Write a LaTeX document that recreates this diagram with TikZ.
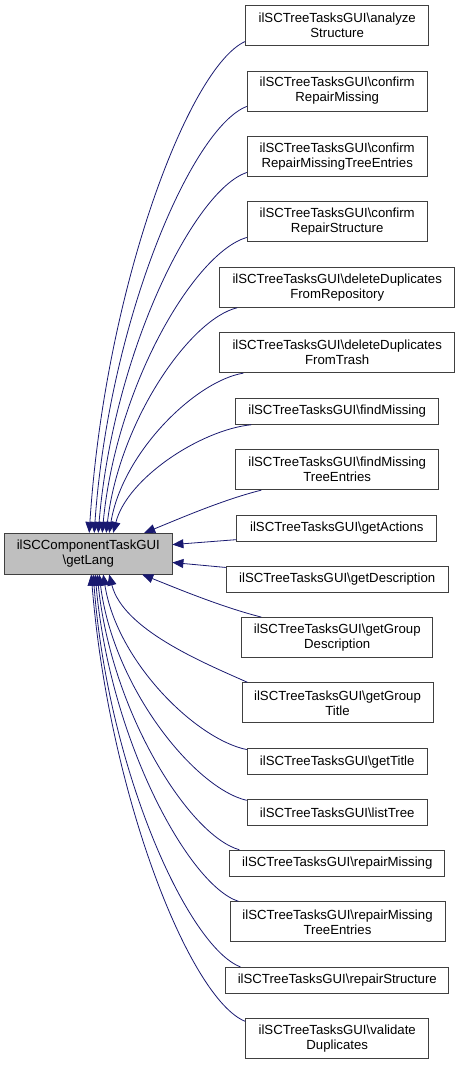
\documentclass[tikz,border=0pt]{standalone}
\usepackage{fontspec}
\setmainfont{Liberation Sans}
\usetikzlibrary{arrows.meta}
\definecolor{edgeblue}{RGB}{25,25,112}
\definecolor{boxline}{RGB}{64,64,64}
\definecolor{boxfill}{RGB}{191,191,191}
\begin{document}
\begin{tikzpicture}[x=1pt,y=-1pt,
  fn/.style={draw=boxline, line width=0.9pt, fill=white, align=center, font=\fontsize{13.2}{15}\selectfont, inner sep=0pt, minimum height=40pt},
  fn1/.style={fn, minimum height=26pt},
  edge/.style={draw=edgeblue, line width=0.8pt, -{Triangle[length=11pt,width=9pt]}}]
\useasboundingbox (0,0) rectangle (460,1065);
% central node
\node[fn, fill=boxfill, minimum width=167.3pt, minimum height=40.7pt] (gl) at (88.3,553.7) {ilSCComponentTaskGUI\\\textbackslash getLang};
% upper callers
\node[fn, minimum width=183pt] (a1) at (337.2,25.7) {ilSCTreeTasksGUI\textbackslash analyze\\Structure};
\node[fn, minimum width=180pt] (a2) at (337.2,91) {ilSCTreeTasksGUI\textbackslash confirm\\RepairMissing};
\node[fn, minimum width=180pt] (a3) at (337.2,156.3) {ilSCTreeTasksGUI\textbackslash confirm\\RepairMissingTreeEntries};
\node[fn, minimum width=180pt] (a4) at (337.2,221.7) {ilSCTreeTasksGUI\textbackslash confirm\\RepairStructure};
\node[fn, minimum width=235pt] (a5) at (337.2,287.3) {ilSCTreeTasksGUI\textbackslash deleteDuplicates\\FromRepository};
\node[fn, minimum width=235pt] (a6) at (337.2,352.7) {ilSCTreeTasksGUI\textbackslash deleteDuplicates\\FromTrash};
\node[fn1, minimum width=203pt] (a7) at (337.2,411.3) {ilSCTreeTasksGUI\textbackslash findMissing};
\node[fn, minimum width=203pt] (a8) at (337.2,469.7) {ilSCTreeTasksGUI\textbackslash findMissing\\TreeEntries};
\node[fn1, minimum width=200pt] (a9) at (336.8,528.5) {ilSCTreeTasksGUI\textbackslash getActions};
% lower callers
\node[fn1, minimum width=222pt] (b0) at (337.2,579.2) {ilSCTreeTasksGUI\textbackslash getDescription};
\node[fn, minimum width=191pt] (b1) at (337.2,637.5) {ilSCTreeTasksGUI\textbackslash getGroup\\Description};
\node[fn, minimum width=191pt] (b2) at (337.5,702.8) {ilSCTreeTasksGUI\textbackslash getGroup\\Title};
\node[fn1, minimum width=180pt] (b3) at (337.2,761.7) {ilSCTreeTasksGUI\textbackslash getTitle};
\node[fn1, minimum width=180pt] (b4) at (337.2,812.5) {ilSCTreeTasksGUI\textbackslash listTree};
\node[fn1, minimum width=215pt] (b5) at (337.3,863.2) {ilSCTreeTasksGUI\textbackslash repairMissing};
\node[fn, minimum width=215pt] (b6) at (337.5,921.8) {ilSCTreeTasksGUI\textbackslash repairMissing\\TreeEntries};
\node[fn1, minimum width=223pt] (b7) at (337.3,980.3) {ilSCTreeTasksGUI\textbackslash repairStructure};
\node[fn, minimum width=183pt] (b8) at (337.2,1038.8) {ilSCTreeTasksGUI\textbackslash validate\\Duplicates};
% edges from upper callers
\draw[edge] ([yshift=4.7pt]a1.south west) .. controls +(-56,25) and +(16,-246) .. ([xshift=85pt]gl.north west);
\draw[edge] ([yshift=5pt]a2.south west) .. controls +(-55,21) and +(15,-213) .. ([xshift=90pt]gl.north west);
\draw[edge] ([yshift=4.3pt]a3.south west) .. controls +(-53,18) and +(15,-180) .. ([xshift=94pt]gl.north west);
\draw[edge] ([yshift=4.7pt]a4.south west) .. controls +(-52,15) and +(14,-148) .. ([xshift=98pt]gl.north west);
\draw[edge] ([xshift=18pt]a5.south west) .. controls +(-47,11) and +(13,-112) .. ([xshift=102pt]gl.north west);
\draw[edge] ([xshift=24pt]a6.south west) .. controls +(-48,8) and +(13,-80) .. ([xshift=105pt]gl.north west);
\draw[edge] ([xshift=16pt]a7.south west) .. controls +(-50,5) and +(14,-55) .. ([xshift=109pt]gl.north west);
\draw[edge] ([xshift=26pt]a8.south west) .. controls +(-40,10) and +(30,-12) .. ([xshift=140pt]gl.north west);
\draw[edge] ([yshift=2.3pt]a9.south west) -- ([yshift=-11.7pt]gl.north east);
% edges from lower callers
\draw[edge] ([yshift=-1.7pt]b0.north west) -- ([yshift=12pt]gl.south east);
\draw[edge] ([xshift=20pt]b1.north west) .. controls +(-40,-10) and +(30,12) .. ([xshift=138pt]gl.south west);
\draw[edge] ([xshift=6pt]b2.north west) .. controls +(-45,-20) and +(14,55) .. ([xshift=105pt]gl.south west);
\draw[edge] ([yshift=-1.3pt]b3.north west) .. controls +(-50,-10) and +(14,88) .. ([xshift=99pt]gl.south west);
\draw[edge] ([yshift=-1.3pt]b4.north west) .. controls +(-52,-12) and +(14,113) .. ([xshift=95pt]gl.south west);
\draw[edge] ([xshift=10pt]b5.north west) .. controls +(-50,-14) and +(14,138) .. ([xshift=93pt]gl.south west);
\draw[edge] ([xshift=9pt]b6.north west) .. controls +(-50,-16) and +(14,164) .. ([xshift=91pt]gl.south west);
\draw[edge] ([xshift=15pt]b7.north west) .. controls +(-52,-20) and +(15,197) .. ([xshift=89pt]gl.south west);
\draw[edge] ([yshift=-3pt]b8.north west) .. controls +(-55,-22) and +(18,222) .. ([xshift=87pt]gl.south west);
\end{tikzpicture}
\end{document}
